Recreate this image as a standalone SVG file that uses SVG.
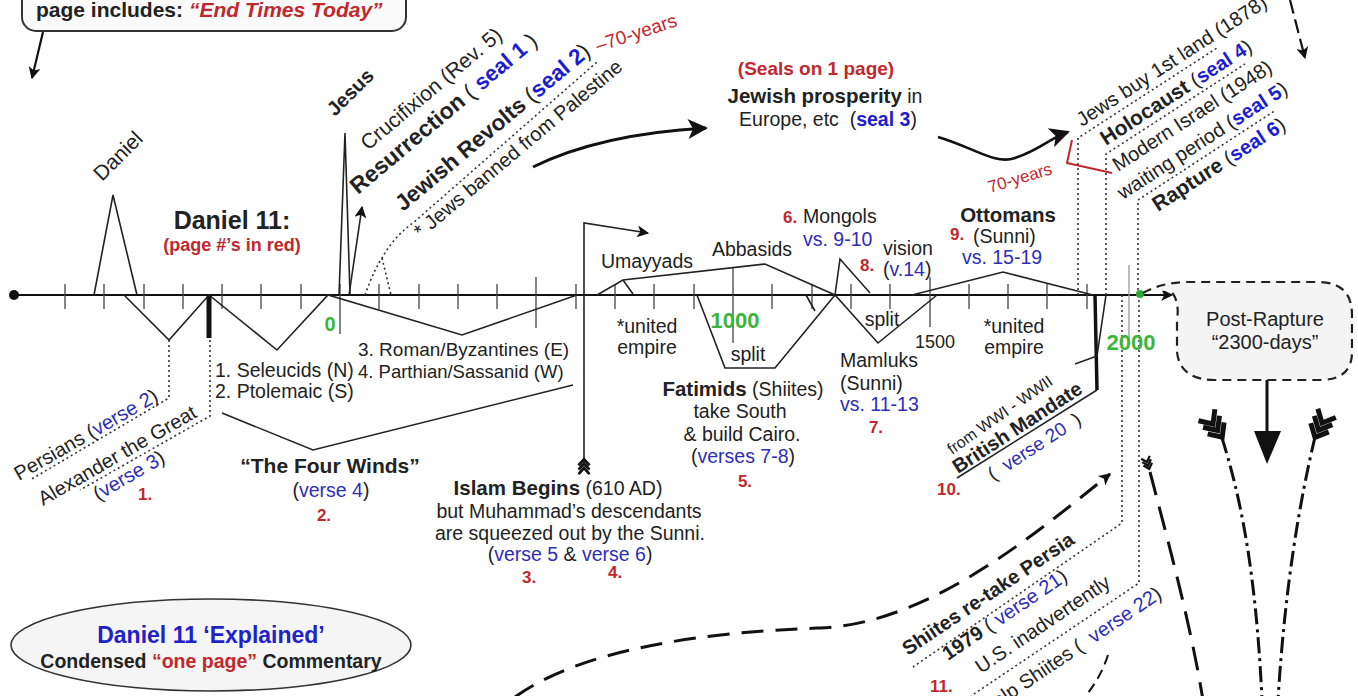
<svg xmlns="http://www.w3.org/2000/svg" width="1358" height="696" viewBox="0 0 1358 696" font-family="Liberation Sans, Arial, Helvetica, sans-serif" font-size="19.5">
<style>
.t{fill:#222}
.b{font-weight:bold}
.bl{fill:#2d2db8}
.sb{fill:#1c1cd0;font-weight:bold}
.rd{fill:#c0282c}
.pn{fill:#c0282c;font-weight:bold;font-size:17px}
.ln{fill:none;stroke:#222;stroke-width:1.6;stroke-linejoin:miter}
.tk{fill:none;stroke:#444;stroke-width:1.3}
.dt{fill:none;stroke:#333;stroke-width:1.6;stroke-dasharray:2 3}
.fl{fill:none;stroke:#111;stroke-width:5}
</style>
<defs>
<marker id="ah" viewBox="0 0 10 10" refX="9" refY="5" markerWidth="15" markerHeight="12" markerUnits="userSpaceOnUse" orient="auto"><path d="M0,0 L10,5 L0,10 L2.5,5 z" fill="#111"/></marker>
<marker id="big" viewBox="0 0 10 10" refX="9" refY="5" markerWidth="30" markerHeight="20" markerUnits="userSpaceOnUse" orient="auto"><path d="M0,0 L10,5 L0,10 L2.5,5 z" fill="#111"/></marker>
<g id="fletch"><path d="M-10,-11 L0,0 L10,-11 M-10,-3 L0,8 L10,-3 M-10,5 L0,16 L10,5" class="fl"/></g>
</defs>
<rect width="1358" height="696" fill="#fff"/>

<g id="n-page">
<rect x="22" y="-25" width="384" height="56" rx="14" fill="#fafafa" stroke="#333" stroke-width="2"/>
<text class="t b" x="36" y="17" font-size="21">page includes: <tspan class="rd" font-style="italic">“End Times Today”</tspan></text>
</g>

<g id="connectors">
<circle cx="14" cy="295" r="5" fill="#111"/>
<line x1="14" y1="295" x2="1172" y2="295" stroke="#111" stroke-width="1.8" marker-end="url(#ah)"/>
<path class="tk" d="M65,284V309 M104,284V309 M144,284V309 M183,284V309 M222,284V309 M261,284V309 M301,284V309 M340,284V334 M379,284V309 M419,284V309 M458,284V309 M497,284V309 M536,277V328 M576,284V309 M615,284V309 M654,284V309 M694,284V309 M733,268V343 M772,284V309 M812,284V309 M851,284V309 M890,284V309 M930,277V327 M969,284V309 M1008,284V309 M1047,284V309 M1087,284V309"/>
<line x1="1129" y1="265" x2="1129" y2="340" stroke="#999" stroke-width="1.3"/>
<line x1="209" y1="295" x2="209" y2="338" stroke="#111" stroke-width="5"/>
<polyline class="ln" points="94,295 113,195 137,295"/>
<polyline class="ln" points="124,295 169,340 209,295 277,350 328,295 462,335 577,295"/>
<polyline class="ln" points="339,295 345,133 350,295"/>
<line class="ln" x1="349" y1="295" x2="362" y2="207" marker-end="url(#ah)"/>
<path class="dt" d="M365,295 C372,275 378,264 382,258 C390,244 400,232 413,223 L597,62"/>
<path class="dt" d="M382,258 L391,295"/>
<polyline class="ln" points="222,413 313,450 573,385"/>
<path class="ln" d="M584,462 V223 L648,233" marker-end="url(#ah)"/>
<use href="#fletch" transform="translate(584,468) rotate(180) scale(0.55)"/>
<polyline class="ln" points="597,295 623,280 765,264 835,295 878,343 937,295"/>
<line class="ln" x1="623" y1="280" x2="633" y2="294"/>
<line class="ln" x1="806" y1="295" x2="815" y2="311"/>
<polyline class="ln" points="697,295 725,368 775,368 835,295"/>
<polyline class="ln" points="835,295 840,259 870,293"/>
<polyline class="ln" points="912,295 1003,272 1093,295"/>
<line x1="1095" y1="295" x2="1097" y2="390" stroke="#111" stroke-width="3.5"/>
<line class="ln" x1="1106" y1="295" x2="1097" y2="356"/>
<line class="ln" x1="1075" y1="364" x2="1097" y2="356" stroke-width="2.5"/>
<line class="ln" x1="1097" y1="390" x2="957" y2="478" stroke-width="2"/>
<path class="dt" d="M169,340 V398 L30,480"/>
<path class="dt" d="M210,340 V416 L80,490"/>
<path class="dt" d="M1078,295 V138 L1217,48"/>
<path class="dt" d="M1106,295 V154 L1245,64"/>
<path class="dt" d="M1138,295 V200 L1276,110"/>
<path class="dt" d="M1122,295 V523 L913,667"/>
<path class="dt" d="M1139,295 V583 L971,696"/>
<path d="M1072,140 L1067,163 L1112,173" fill="none" stroke="#c0282c" stroke-width="2"/>
<circle cx="1140" cy="294" r="4" fill="#2eaa2e"/>
<path d="M533,167 Q600,134 706,128" fill="none" stroke="#111" stroke-width="3" marker-end="url(#big)"/>
<path d="M938,137 C975,148 995,165 1015,158 C1040,150 1050,138 1068,132" fill="none" stroke="#111" stroke-width="2.6" marker-end="url(#big)"/>
<line x1="43" y1="32" x2="32" y2="78" stroke="#111" stroke-width="2.2" marker-end="url(#ah)"/>
<line x1="1290" y1="0" x2="1305" y2="58" stroke="#111" stroke-width="2.2" stroke-dasharray="14 6" marker-end="url(#ah)"/>
<line x1="1267" y1="380" x2="1267" y2="436" stroke="#111" stroke-width="3"/>
<polygon points="1254,431 1281,431 1267,464" fill="#111"/>
<path d="M1222,438 C1240,495 1256,570 1262,700" fill="none" stroke="#111" stroke-width="3" stroke-dasharray="16 5 3 5"/>
<use href="#fletch" transform="translate(1213,424) rotate(-35)"/>
<path d="M1315,437 C1300,500 1285,585 1278,700" fill="none" stroke="#111" stroke-width="3" stroke-dasharray="16 5 3 5"/>
<use href="#fletch" transform="translate(1322,423) rotate(26)"/>
<path d="M515,697 C580,650 700,632 820,628 C930,624 1040,530 1110,474" fill="none" stroke="#111" stroke-width="3" stroke-dasharray="22 12" marker-end="url(#ah)"/>
<path d="M1150,472 C1165,530 1190,620 1203,700" fill="none" stroke="#111" stroke-width="3" stroke-dasharray="24 12"/>
<use href="#fletch" transform="translate(1147,462) rotate(-18) scale(0.45)"/>
<path d="M1108,655 Q1100,680 1082,700" fill="none" stroke="#111" stroke-width="2" stroke-dasharray="10 6"/>
</g>

<g id="n-postrapture">
<path d="M1143,293 C1155,286 1168,283 1185,282 L1320,282 Q1352,283 1352,315 L1352,352 Q1352,380 1320,380 L1215,380 Q1180,380 1177,352 L1177,320 Q1180,300 1170,290" fill="#f4f4f4" stroke="#222" stroke-width="2.2" stroke-dasharray="9 6"/>
<text class="t" x="1265" y="326" text-anchor="middle" font-size="20">Post-Rapture</text>
<text class="t" x="1265" y="349" text-anchor="middle" font-size="20">“2300-days”</text>
</g>

<g id="n-daniel"><text class="t" font-size="21" transform="translate(102,182) rotate(-45)">Daniel</text></g>
<g id="n-daniel11">
<text class="t b" x="232" y="229" text-anchor="middle" font-size="25">Daniel 11:</text>
<text class="t b rd" x="232" y="251" text-anchor="middle" font-size="18">(page #’s in red)</text>
</g>
<g id="n-persians">
<text class="t" font-size="20" transform="translate(19,481) rotate(-30)">Persians (<tspan class="bl">verse 2</tspan>)</text>
<text class="t" font-size="20" transform="translate(43,506) rotate(-30)">Alexander the Great</text>
<text class="t" font-size="20" transform="translate(98,501) rotate(-30)">(<tspan class="bl">verse 3</tspan>)</text>
<text class="pn" x="138" y="500">1.</text>
</g>
<g id="n-kingdoms">
<text class="t" x="215" y="377">1. Seleucids (N)</text>
<text class="t" x="215" y="398">2. Ptolemaic (S)</text>
<text class="t" x="358" y="356" font-size="19">3. Roman/Byzantines (E)</text>
<text class="t" x="358" y="378" font-size="18.5">4. Parthian/Sassanid (W)</text>
</g>
<g id="n-fourwinds">
<text class="t b" x="330" y="473" text-anchor="middle" font-size="21">“The Four Winds”</text>
<text class="t" x="331" y="497" text-anchor="middle">(<tspan class="bl">verse 4</tspan>)</text>
<text class="pn" x="324" y="521" text-anchor="middle">2.</text>
</g>
<g id="n-jesus">
<text class="t b" font-size="20" transform="translate(335,117) rotate(-45)">Jesus</text>
<text class="t" font-size="21" transform="translate(368,151) rotate(-40)">Crucifixion (Rev. 5)</text>
<text class="t" font-size="22" transform="translate(358,195) rotate(-40)"><tspan class="b" font-size="23">Resurrection</tspan> ( <tspan class="sb">seal 1</tspan> )</text>
<text class="t" font-size="22.5" transform="translate(403,212) rotate(-40)"><tspan class="b">Jewish Revolts</tspan> (<tspan class="sb">seal 2</tspan>)</text>
<text class="t rd" font-size="19" transform="translate(598,52) rotate(-18)">–70-years</text>
<text class="t" font-size="20" transform="translate(421,239) rotate(-40)">* Jews banned from Palestine</text>
</g>
<g id="n-islam">
<text class="t" x="558" y="495" text-anchor="middle"><tspan class="b" font-size="20.5">Islam Begins</tspan> (610 AD)</text>
<text class="t" x="569" y="518" text-anchor="middle">but Muhammad’s descendants</text>
<text class="t" x="570" y="540" text-anchor="middle">are squeezed out by the Sunni.</text>
<text class="t" x="570" y="561" text-anchor="middle">(<tspan class="bl">verse 5</tspan> &amp; <tspan class="bl">verse 6</tspan>)</text>
<text class="pn" x="522" y="583">3.</text>
<text class="pn" x="608" y="578">4.</text>
</g>
<g id="n-seals">
<text class="t b rd" x="816" y="75" text-anchor="middle" font-size="19">(Seals on 1 page)</text>
<text class="t" x="825" y="103" text-anchor="middle"><tspan class="b" font-size="20.5">Jewish prosperity</tspan> in</text>
<text class="t" x="828" y="126" text-anchor="middle">Europe, etc&#160; (<tspan class="sb">seal 3</tspan>)</text>
</g>
<g id="n-years">
<text class="b" x="330" y="331" text-anchor="middle" font-size="20" fill="#3bb53b">0</text>
<text class="b" x="735" y="328" text-anchor="middle" font-size="22" fill="#3bb53b">1000</text>
<text class="t" x="935" y="348" text-anchor="middle" font-size="18">1500</text>
<text class="b" x="1131" y="350" text-anchor="middle" font-size="22" fill="#3bb53b">2000</text>
</g>
<g id="n-umayyads">
<text class="t" x="647" y="268" text-anchor="middle">Umayyads</text>
<text class="t" x="647" y="333" text-anchor="middle">*united</text>
<text class="t" x="647" y="354" text-anchor="middle">empire</text>
</g>
<g id="n-abbasids"><text class="t" x="752" y="256" text-anchor="middle">Abbasids</text></g>
<g id="n-fatimids">
<text class="t" x="748" y="361" text-anchor="middle">split</text>
<text class="t" x="743" y="396" text-anchor="middle"><tspan class="b" font-size="20.5">Fatimids</tspan> (Shiites)</text>
<text class="t" x="740" y="418" text-anchor="middle">take South</text>
<text class="t" x="742" y="441" text-anchor="middle">&amp; build Cairo.</text>
<text class="t" x="743" y="463" text-anchor="middle">(<tspan class="bl">verses 7-8</tspan>)</text>
<text class="pn" x="745" y="487" text-anchor="middle">5.</text>
</g>
<g id="n-mongols">
<text class="pn" x="783" y="223">6.</text>
<text class="t" x="803" y="223">Mongols</text>
<text class="t bl" x="803" y="246">vs. 9-10</text>
</g>
<g id="n-vision">
<text class="t" x="883" y="255">vision</text>
<text class="pn" x="860" y="271">8.</text>
<text class="t" x="883" y="276">(<tspan class="bl">v.14</tspan>)</text>
</g>
<g id="n-mamluks">
<text class="t" x="882" y="326" text-anchor="middle">split</text>
<text class="t" x="840" y="367">Mamluks</text>
<text class="t" x="840" y="390">(Sunni)</text>
<text class="t bl" x="840" y="411">vs. 11-13</text>
<text class="pn" x="876" y="433" text-anchor="middle">7.</text>
</g>
<g id="n-ottomans">
<text class="t b" x="1008" y="222" text-anchor="middle" font-size="20.5">Ottomans</text>
<text class="pn" x="950" y="240">9.</text>
<text class="t" x="973" y="243">(Sunni)</text>
<text class="t bl" x="1002" y="264" text-anchor="middle">vs. 15-19</text>
<text class="t" x="1014" y="333" text-anchor="middle">*united</text>
<text class="t" x="1014" y="354" text-anchor="middle">empire</text>
</g>
<g id="n-modern">
<text class="t rd" font-size="17" transform="translate(990,193) rotate(-17)">70-years</text>
<text class="t" font-size="20" transform="translate(1082,127) rotate(-33)">Jews buy 1st land (1878)</text>
<text class="t" font-size="20" transform="translate(1106,146) rotate(-33)"><tspan class="b" font-size="21">Holocaust</tspan> (<tspan class="sb">seal 4</tspan>)</text>
<text class="t" font-size="20" transform="translate(1118,172) rotate(-33)">Modern Israel (1948)</text>
<text class="t" font-size="20" transform="translate(1123,200) rotate(-33)">waiting period (<tspan class="sb">seal 5</tspan>)</text>
<text class="t" font-size="20" transform="translate(1158,212) rotate(-33)"><tspan class="b" font-size="21">Rapture</tspan> (<tspan class="sb">seal 6</tspan>)</text>
</g>
<g id="n-british">
<text class="t" font-size="16" transform="translate(952,455) rotate(-35)">from WWI - WWII</text>
<text class="t b" font-size="20" transform="translate(958,474) rotate(-33)">British Mandate</text>
<text class="t" font-size="19" transform="translate(993,481) rotate(-33)">(&#160;&#160;<tspan class="bl">verse 20</tspan>&#160;&#160;)</text>
<text class="pn" x="937" y="495">10.</text>
</g>
<g id="n-shiites">
<text class="t b" font-size="20" transform="translate(908,656) rotate(-34)">Shiites re-take Persia</text>
<text class="t" font-size="20" transform="translate(948,661) rotate(-34)"><tspan class="b">1979</tspan> ( <tspan class="bl">verse 21</tspan>)</text>
<text class="t" font-size="20" transform="translate(981,674) rotate(-34)">U.S. inadvertently</text>
<text class="t" font-size="20" text-anchor="end" transform="translate(1163,597) rotate(-34)">help Shiites (&#160;&#160;<tspan class="bl">verse 22</tspan>)</text>
<text class="pn" x="930" y="692">11.</text>
</g>
<g id="n-title">
<ellipse cx="211" cy="645" rx="200" ry="46" fill="#f5f5f5" stroke="#333" stroke-width="1.6"/>
<text class="b" x="211" y="643" text-anchor="middle" font-size="23" fill="#1e22c8">Daniel 11 ‘Explained’</text>
<text class="t b" x="211" y="668" text-anchor="middle" font-size="19.5">Condensed <tspan class="rd">“one page”</tspan> Commentary</text>
</g>
</svg>
